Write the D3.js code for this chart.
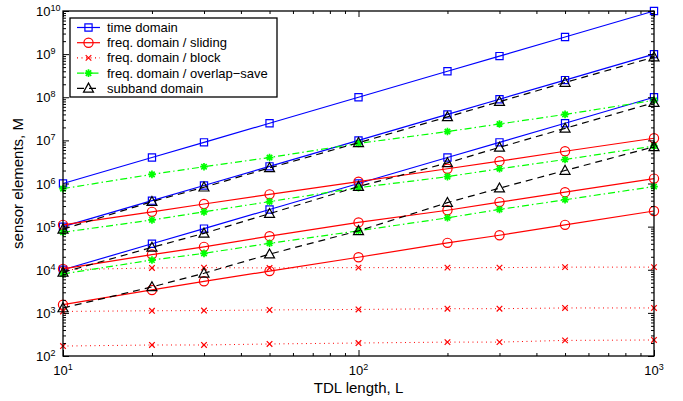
<!DOCTYPE html>
<html>
<head>
<meta charset="utf-8">
<script src="https://cdn.jsdelivr.net/npm/d3@7"></script>
<style>
  body { margin: 0; background: #fff; }
  svg { display: block; font-family: "Liberation Sans", Arial, sans-serif; }
</style>
</head>
<body>
<svg id="chart" width="683" height="401"></svg>
<script>
// TDL lengths (x values)
const tdlLengths = [10, 20, 30, 50, 100, 200, 300, 500, 1000];

// time domain, three configurations
const timeDomain = [
  [1e6, 4e6, 9e6, 2.5e7, 1e8, 4e8, 9e8, 2.5e9, 1e10],
  [1e5, 4e5, 9e5, 2.5e6, 1e7, 4e7, 9e7, 2.5e8, 1e9],
  [1e4, 4e4, 9e4, 2.5e5, 1e6, 4e6, 9e6, 2.5e7, 1e8]
];
// freq. domain / sliding
const freqSliding = [
  [1.1e5, 2.2e5, 3.35e5, 5.6e5, 1.1e6, 2.2e6, 3.3e6, 5.6e6, 1.12e7],
  [1.05e4, 2.25e4, 3.4e4, 6.0e4, 1.25e5, 2.4e5, 3.7e5, 6.3e5, 1.3e6],
  [1.55e3, 3.4e3, 5.4e3, 9.3e3, 1.95e4, 4.2e4, 6.3e4, 1.1e5, 2.3e5]
];
// freq. domain / block
const freqBlock = [
  [1.0e4, 1.1e4, 1.12e4, 1.1e4, 1.12e4, 1.12e4, 1.12e4, 1.15e4, 1.15e4],
  [1.08e3, 1.12e3, 1.13e3, 1.17e3, 1.2e3, 1.25e3, 1.25e3, 1.3e3, 1.3e3],
  [1.7e2, 1.8e2, 1.8e2, 1.9e2, 2.0e2, 2.1e2, 2.1e2, 2.3e2, 2.35e2]
];
// freq. domain / overlap-save
const freqOverlapSave = [
  [7.6e5, 1.63e6, 2.45e6, 4.0e6, 8.5e6, 1.6e7, 2.4e7, 4.0e7, 8.5e7],
  [7.4e4, 1.43e5, 2.2e5, 3.8e5, 8.0e5, 1.44e6, 2.2e6, 3.6e6, 7.4e6],
  [8.0e3, 1.68e4, 2.4e4, 4.1e4, 8.0e4, 1.6e5, 2.5e5, 4.2e5, 8.5e5]
];
// subband domain
const subbandDomain = [
  [8.7e4, 3.8e5, 8.2e5, 2.3e6, 8.8e6, 3.5e7, 7.9e7, 2.2e8, 8.5e8],
  [8.7e3, 3.3e4, 7.0e4, 2.0e5, 8.5e5, 3.0e6, 6.9e6, 1.9e7, 7.5e7],
  [1.3e3, 4.0e3, 8.3e3, 2.3e4, 8.0e4, 3.6e5, 7.8e5, 2.0e6, 7.1e6]
];

const legendLabels = ['time domain', 'freq. domain / sliding', 'freq. domain / block',
  'freq. domain / overlap\u2212save', 'subband domain'];

const svg = d3.select('#chart');
const margin = {top: 11, right: 29, bottom: 45, left: 63};
const width = 683, height = 401;

const x = d3.scaleLog().domain([10, 1000]).range([margin.left, width - margin.right]);
const y = d3.scaleLog().domain([1e2, 1e10]).range([height - margin.bottom, margin.top]);

const isDecade = v => Math.abs(Math.log10(v) - Math.round(Math.log10(v))) < 1e-9;

// series styles
const series = [
  {lines: timeDomain, color: '#0000ff', dash: null, marker: 'square'},
  {lines: freqSliding, color: '#ff0000', dash: null, marker: 'circle'},
  {lines: freqBlock, color: '#ff0000', dash: '1,3.5', marker: 'x'},
  {lines: freqOverlapSave, color: '#00ff00', dash: '7,3,1.5,3', marker: 'star'},
  {lines: subbandDomain, color: '#000000', dash: '7,5', marker: 'triangle'}
];

const markerPath = {
  square: 'M-3.6,-3.6H3.6V3.6H-3.6Z',
  x: 'M-2.8,-2.8L2.8,2.8M-2.8,2.8L2.8,-2.8',
  star: 'M-3.8,0H3.8M0,-3.8V3.8M-2.7,-2.7L2.7,2.7M-2.7,2.7L2.7,-2.7',
  triangle: 'M0,-5.2L5,3.8H-5Z'
};

function drawMarker (g, type, color) {
  if (type === 'circle') {
    g.append('circle').attr('r', 4.6).attr('fill', 'none')
      .attr('stroke', color).attr('stroke-width', 1.2);
  } else {
    g.append('path').attr('d', markerPath[type]).attr('fill', 'none')
      .attr('stroke', color).attr('stroke-width', type === 'star' ? 1.7 : 1.2);
  }
}

const line = d3.line()
  .x((d, i) => x(tdlLengths[i]))
  .y(d => y(d));

const plot = svg.append('g');
series.forEach(s => {
  s.lines.forEach(vals => {
    plot.append('path')
      .attr('d', line(vals))
      .attr('fill', 'none')
      .attr('stroke', s.color)
      .attr('stroke-width', s.dash === '1,3.5' ? 1 : 1.2)
      .attr('stroke-dasharray', s.dash);
    vals.forEach((v, i) => {
      const g = plot.append('g').attr('transform', `translate(${x(tdlLengths[i])},${y(v)})`);
      drawMarker(g, s.marker, s.color);
    });
  });
});

// axes: ticks inward on all four sides
const xMinor = x.ticks().filter(v => !isDecade(v));
const xMajor = x.ticks().filter(isDecade);
const yMinor = y.ticks().filter(v => !isDecade(v));
const yMajor = y.ticks().filter(isDecade);

const axisStyle = g => {
  g.select('.domain').remove();
  g.selectAll('.tick line').attr('stroke', '#000').attr('stroke-width', 1);
  g.selectAll('.tick text').remove();
};

const bottomY = height - margin.bottom, rightX = width - margin.right;
[[xMinor, 3], [xMajor, 6]].forEach(([vals, len]) => {
  svg.append('g').attr('transform', `translate(0,${bottomY})`)
    .call(d3.axisBottom(x).tickValues(vals).tickSize(-len)).call(axisStyle);
  svg.append('g').attr('transform', `translate(0,${margin.top})`)
    .call(d3.axisTop(x).tickValues(vals).tickSize(-len)).call(axisStyle);
});
[[yMinor, 3], [yMajor, 6]].forEach(([vals, len]) => {
  svg.append('g').attr('transform', `translate(${margin.left},0)`)
    .call(d3.axisLeft(y).tickValues(vals).tickSize(-len)).call(axisStyle);
  svg.append('g').attr('transform', `translate(${rightX},0)`)
    .call(d3.axisRight(y).tickValues(vals).tickSize(-len)).call(axisStyle);
});

svg.append('rect')
  .attr('x', margin.left).attr('y', margin.top)
  .attr('width', rightX - margin.left).attr('height', bottomY - margin.top)
  .attr('fill', 'none').attr('stroke', '#000').attr('stroke-width', 1.3);

// tick labels 10^n
yMajor.forEach(v => {
  const t = svg.append('text')
    .attr('x', 36).attr('y', y(v) + 5)
    .attr('font-size', 13).attr('fill', '#000');
  t.append('tspan').text('10');
  t.append('tspan').attr('font-size', 9).attr('dy', -5).text(Math.round(Math.log10(v)));
});
xMajor.forEach(v => {
  const t = svg.append('text')
    .attr('x', x(v)).attr('y', 375)
    .attr('text-anchor', 'middle')
    .attr('font-size', 13).attr('fill', '#000');
  t.append('tspan').text('10');
  t.append('tspan').attr('font-size', 9).attr('dy', -5).text(Math.round(Math.log10(v)));
});

// axis titles
svg.append('text')
  .attr('x', (margin.left + rightX) / 2).attr('y', 393)
  .attr('text-anchor', 'middle').attr('font-size', 15)
  .text('TDL length, L');
svg.append('text')
  .attr('transform', `translate(23,${(margin.top + bottomY) / 2}) rotate(-90)`)
  .attr('text-anchor', 'middle').attr('font-size', 15)
  .text('sensor elements, M');

// legend
const legend = svg.append('g').attr('transform', 'translate(70,18)');
legend.append('rect').attr('width', 207).attr('height', 79)
  .attr('fill', '#fff').attr('stroke', '#000').attr('stroke-width', 1.3);
series.forEach((s, i) => {
  const ly = 9.5 + i * 15.2;
  legend.append('line')
    .attr('x1', 7).attr('x2', 30).attr('y1', ly).attr('y2', ly)
    .attr('stroke', s.color).attr('stroke-width', 1.2)
    .attr('stroke-dasharray', s.dash);
  const g = legend.append('g').attr('transform', `translate(18.5,${ly})`);
  drawMarker(g, s.marker, s.color);
  legend.append('text')
    .attr('x', 37).attr('y', ly + 4.5)
    .attr('font-size', 13).text(legendLabels[i]);
});
</script>
</body>
</html>
